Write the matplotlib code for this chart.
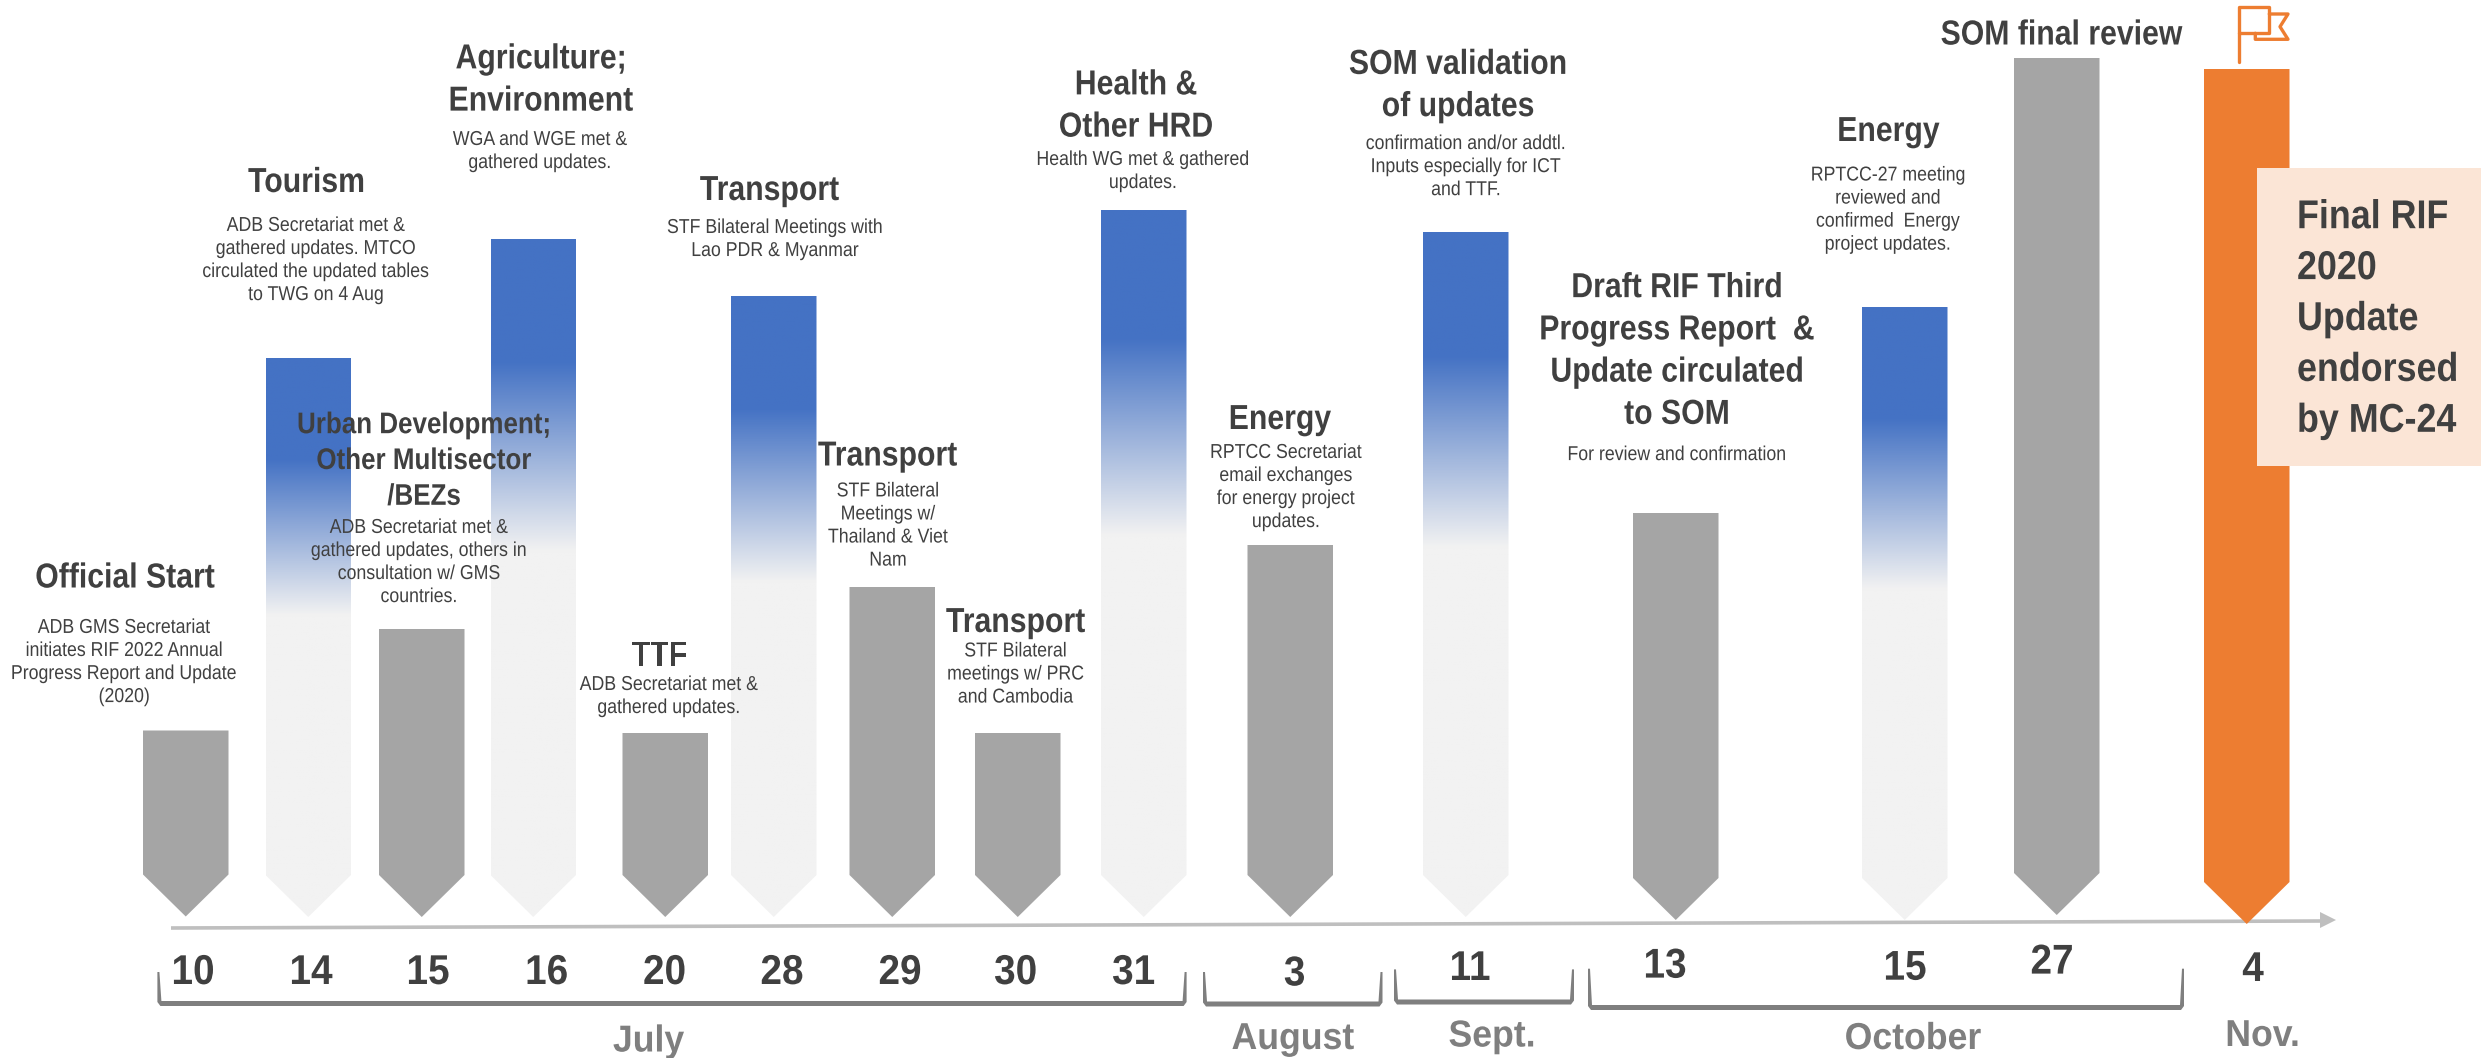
import numpy as np
import matplotlib
matplotlib.use("Agg")
import matplotlib.pyplot as plt
from matplotlib.colors import LinearSegmentedColormap
from matplotlib.patches import PathPatch, Polygon
from matplotlib.path import Path
from matplotlib.patheffects import AbstractPathEffect
from matplotlib.transforms import Affine2D

# Timeline data
day_labels = ["10", "14", "15", "16", "20", "28", "29", "30", "31",
              "3", "11", "13", "15", "27", "4"]
month_labels = ["July", "August", "Sept.", "October", "Nov."]
milestone_titles = [
    "Official Start", "Tourism", "Urban Development;\nOther Multisector\n/BEZs",
    "Agriculture;\nEnvironment", "TTF", "Transport", "Transport", "Transport",
    "Health &\nOther HRD", "Energy", "SOM validation\nof updates",
    "Draft RIF Third\nProgress Report  &\nUpdate circulated\nto SOM",
    "Energy", "SOM final review", "",
]
milestone_notes = [
    "ADB GMS Secretariat\ninitiates RIF 2022 Annual\nProgress Report and Update\n(2020)",
    "ADB Secretariat met &\ngathered updates. MTCO\ncirculated the updated tables\nto TWG on 4 Aug",
    "ADB Secretariat met &\ngathered updates, others in\nconsultation w/ GMS\ncountries.",
    "WGA and WGE met &\ngathered updates.",
    "ADB Secretariat met &\ngathered updates.",
    "STF Bilateral Meetings with\nLao PDR & Myanmar",
    "STF Bilateral\nMeetings w/\nThailand & Viet\nNam",
    "STF Bilateral\nmeetings w/ PRC\nand Cambodia",
    "Health WG met & gathered\nupdates.",
    "RPTCC Secretariat\nemail exchanges\nfor energy project\nupdates.",
    "confirmation and/or addtl.\nInputs especially for ICT\nand TTF.",
    "For review and confirmation",
    "RPTCC-27 meeting\nreviewed and\nconfirmed  Energy\nproject updates.",
    "", "",
]
bar_heights = [186, 559, 288, 678, 184, 621, 330, 184, 707, 372, 685, 407, 613, 857, 855]
bar_kinds = ["grey", "grad", "grey", "grad", "grey", "grad", "grey", "grey", "grad",
             "grey", "grad", "grey", "grad", "grey", "final"]
final_note = "Final RIF\n2020\nUpdate\nendorsed\nby MC-24"

# Layout in canvas pixels
W, H = 2481, 1058
BAR_W = 85.5
POINT_H = 42
bar_left = [143, 265.5, 379, 490.5, 622.5, 731, 849.5, 975, 1101, 1247.5, 1423, 1633, 1862, 2014, 2204]
bar_tip = [916.5, 917, 917, 917, 917, 917, 917, 917, 917, 917, 917, 920, 920, 915, 924]
title_xy = [(125, 578), (306.5, 182.5), (424, 461), (541, 80), (659.6, 656), (769.5, 190.5),
            (887.6, 456), (1015.6, 622.5), (1136, 106), (1280, 419.5), (1458, 85.5), (1677, 351),
            (1888.5, 131.5), (2061.6, 35), (0, 0)]
title_sizes = [25, 25, 21.5, 25, 25, 25, 25, 25, 25, 25, 25, 25, 25, 25, 25]
note_xy = [(124, 662), (316, 260), (419, 562), (540, 151), (669, 696), (775, 239),
           (888, 525.5), (1015.6, 674), (1143, 171), (1286, 487), (1466, 166.6), (1677, 454.6),
           (1888, 209.6), (0, 0), (0, 0)]
day_xy = [(193, 973), (311, 973), (428, 973), (546.6, 973), (664.5, 973), (782, 973), (900, 973),
          (1015.6, 973), (1133.6, 973), (1294.6, 974.4), (1470, 969), (1665, 966.6), (1905, 968.7),
          (2052, 962.6), (2253, 970)]
month_xy = [(648.6, 1041.5), (1293, 1039), (1492, 1036.5), (1913, 1039), (2262.6, 1036)]
brackets = [(157.4, 1186.6, 972, 1006), (1203, 1382.5, 972, 1006.5),
            (1394, 1574, 969.4, 1004.5), (1588, 2184, 968.7, 1010)]

DARK = "#404040"
MID = "#7F7F7F"
GREY = "#A5A5A5"
ORANGE = "#ED7D31"
LIGHT = "#F2F2F2"
BLUE = "#4472C4"
AXIS = "#BFBFBF"
PEACH = "#FBE5D6"

plt.rcParams["font.family"] = ["Liberation Sans", "DejaVu Sans"]

fig = plt.figure(figsize=(W / 100, H / 100), dpi=100)
ax = fig.add_axes([0, 0, 1, 1])
ax.set_xlim(0, W)
ax.set_ylim(H, 0)
ax.axis("off")


class Squeeze(AbstractPathEffect):
    """Narrows a text horizontally about its anchor, giving a condensed face."""

    def __init__(self, factor, anchor_x):
        super().__init__()
        self.factor = factor
        self.anchor_x = anchor_x

    def draw_path(self, renderer, gc, tpath, affine, rgbFace=None):
        cx = ax.transData.transform((self.anchor_x, 0))[0]
        narrow = affine + Affine2D().translate(-cx, 0).scale(self.factor, 1).translate(cx, 0)
        renderer.draw_path(gc, tpath, narrow, rgbFace)


def label(x, y, s, factor, **kw):
    ax.text(x, y, s, va="center", zorder=4, path_effects=[Squeeze(factor, x)], **kw)


# Time axis with its arrow head
ax.plot([171, 2322], [928, 921], color=AXIS, lw=2.6, solid_capstyle="butt", zorder=1)
ax.add_patch(Polygon([(2320, 912), (2336, 920), (2320, 928)], closed=True, fc=AXIS, ec="none", zorder=1))

fade = LinearSegmentedColormap.from_list(
    "fade", [(0, BLUE), (0.18, BLUE), (0.46, LIGHT), (1, LIGHT)], N=256)
ramp = np.linspace(0, 1, 256).reshape(-1, 1)

# Pointed activity bars
for left, tip, height, kind in zip(bar_left, bar_tip, bar_heights, bar_kinds):
    top = tip - height
    outline = [(left, top), (left + BAR_W, top), (left + BAR_W, tip - POINT_H),
               (left + BAR_W / 2, tip), (left, tip - POINT_H), (left, top)]
    if kind == "grad":
        im = ax.imshow(ramp, cmap=fade, vmin=0, vmax=1, aspect="auto",
                       extent=(left, left + BAR_W, tip, top), zorder=2)
        clip = PathPatch(Path(outline), transform=ax.transData, fc="none", ec="none")
        ax.add_patch(clip)
        im.set_clip_path(clip)
    else:
        ax.add_patch(Polygon(outline, closed=True, ec="none", zorder=2,
                             fc=ORANGE if kind == "final" else GREY))
ax.set_xlim(0, W)
ax.set_ylim(H, 0)

# Month brackets
for x0, x1, y0, y1 in brackets:
    shape = [(x0, y0), (x0 + 2, y0), (x0 + 4, y1 - 5), (x1 - 4, y1 - 5), (x1 - 2, y0), (x1, y0),
             (x1, y1 - 4), (x1 - 3, y1), (x0 + 3, y1), (x0, y1 - 4)]
    ax.add_patch(Polygon(shape, closed=True, fc=MID, ec="none", zorder=2))

# Captions
for (x, y), s, size in zip(title_xy, milestone_titles, title_sizes):
    if s:
        label(x, y, s, 0.87, ha="center", color=DARK, fontsize=size, fontweight="bold", linespacing=1.355)
for (x, y), s in zip(note_xy, milestone_notes):
    if s:
        label(x, y, s, 0.88, ha="center", color=DARK, fontsize=14.5, linespacing=1.27)
for (x, y), s in zip(day_xy, day_labels):
    label(x, y, s, 0.93, ha="center", color=DARK, fontsize=30, fontweight="bold")
for (x, y), s in zip(month_xy, month_labels):
    label(x, y, s, 0.95, ha="center", color=MID, fontsize=27, fontweight="bold")

# Closing note over the last bar
ax.add_patch(Polygon([(2257, 168), (W, 168), (W, 466), (2257, 466)], closed=True, fc=PEACH, ec="none", zorder=3))
label(2297, 319, final_note, 0.89, ha="left", color=DARK, fontsize=29, fontweight="bold", linespacing=1.43)

# Flag above the last bar
ax.plot([2239.3, 2239.3, 2269.3, 2269.3, 2239.3], [62, 7.3, 7.3, 33.3, 33.3],
        color=ORANGE, lw=2.4, solid_joinstyle="round", solid_capstyle="round", zorder=3)
ax.plot([2269.3, 2288, 2280, 2288, 2255.3, 2255.3], [14, 14, 26.7, 39.3, 39.3, 33.3],
        color=ORANGE, lw=2.4, solid_joinstyle="round", solid_capstyle="round", zorder=3)

fig.savefig("out.png", dpi=100, facecolor="white")
